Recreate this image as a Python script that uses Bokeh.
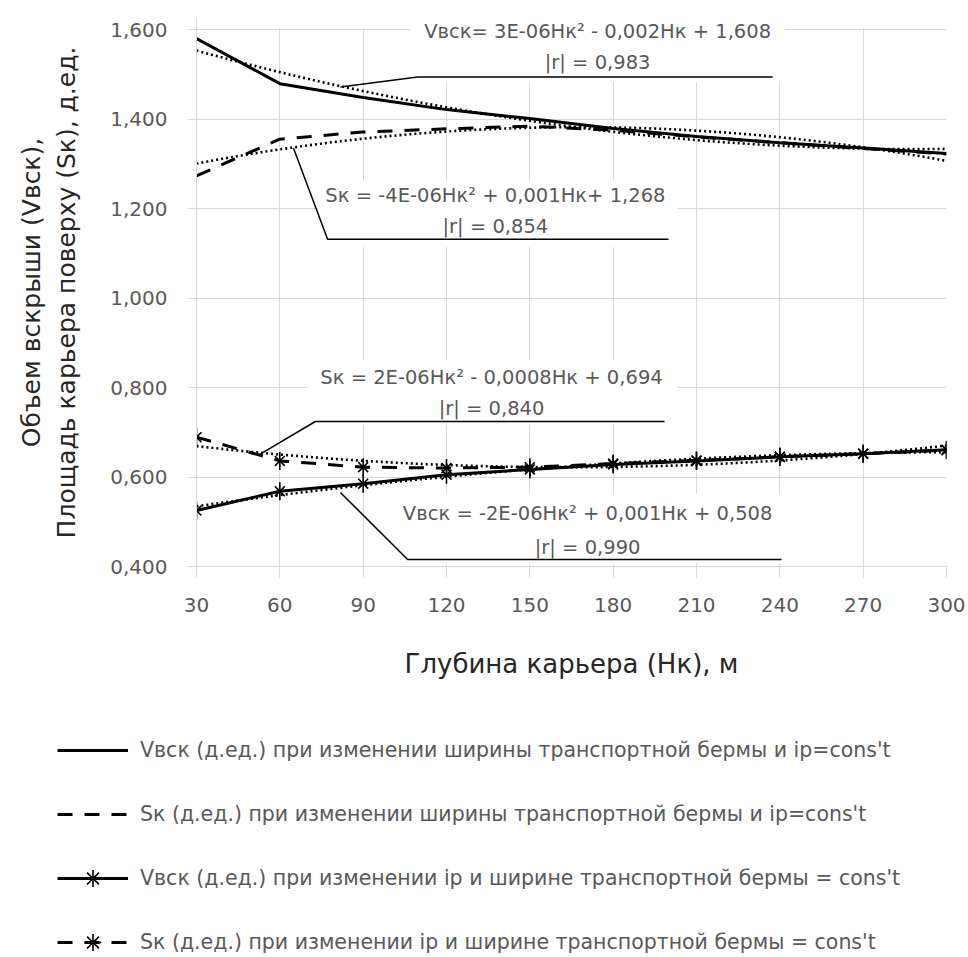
import numpy as np
from bokeh.plotting import figure
from bokeh.models import (FixedTicker, CustomJSTickFormatter, Label, Legend,
                          LegendItem, Range1d)
from bokeh.embed import file_html
from bokeh.resources import INLINE

# Depth of the pit, m
depth = [30, 60, 90, 120, 150, 180, 210, 240, 270, 300]

# Relative values (fractions of a unit)
v_berm = [1.580, 1.479, 1.448, 1.421, 1.401, 1.379, 1.361, 1.347, 1.335, 1.323]
s_berm = [1.273, 1.355, 1.371, 1.378, 1.384, 1.375, 1.360, 1.347, 1.334, 1.322]
v_ip = [0.525, 0.568, 0.585, 0.605, 0.617, 0.628, 0.636, 0.645, 0.652, 0.661]
s_ip = [0.689, 0.636, 0.622, 0.620, 0.622, 0.630, 0.637, 0.645, 0.652, 0.660]

y_ticks = [0.4, 0.6, 0.8, 1.0, 1.2, 1.4, 1.6]
x_ticks = [30, 60, 90, 120, 150, 180, 210, 240, 270, 300]

legend_labels = [
    "Vвск (д.ед.) при изменении ширины транспортной бермы и ip=cons't",
    "Sк (д.ед.) при изменении ширины транспортной бермы и ip=cons't",
    "Vвск (д.ед.) при изменении ip и ширине транспортной бермы = cons't",
    "Sк (д.ед.) при изменении ip и ширине транспортной бермы = cons't",
]

eq_texts = [
    ("Vвск= 3E-06Нк² - 0,002Нк + 1,608", "|r| = 0,983"),
    ("Sк = -4E-06Нк² + 0,001Нк+ 1,268", "|r| = 0,854"),
    ("Sк = 2E-06Нк² - 0,0008Нк + 0,694", "|r| = 0,840"),
    ("Vвск = -2E-06Нк² + 0,001Нк + 0,508", "|r| = 0,990"),
]

# Placement of the equation boxes: text centre x, y of both lines,
# white box (left, right, top, bottom) and the leader polyline.
eq_layout = [
    dict(cx=174.4, y1=1.5946, y2=1.5253, box=(107.0, 242.0, 1.70, 1.4828),
         lx=[81.8, 109.6, 237.4], ly=[1.4716, 1.494, 1.494]),
    dict(cx=137.6, y1=1.2300, y2=1.1606, box=(73.9, 203.2, 1.2635, 1.1136),
         lx=[64.9, 77.2, 199.9], ly=[1.335, 1.1315, 1.1315]),
    dict(cx=136.2, y1=0.8228, y2=0.7535, box=(70.3, 203.2, 0.8609, 0.7154),
         lx=[52.0, 72.8, 198.5], ly=[0.648, 0.724, 0.724]),
    dict(cx=170.8, y1=0.5186, y2=0.4425, box=(101.6, 243.8, 0.5633, 0.4067),
         lx=[81.8, 106.0, 240.6], ly=[0.5655, 0.4157, 0.4157]),
]

FONT = "DejaVu Sans"
GREY = "#595959"
GRID = "#d9d9d9"

# a little head room above 1,600 keeps the top equation inside the frame
Y_TOP = 1.6246

p = figure(width=968, height=720, output_backend="svg", toolbar_location=None,
           x_range=Range1d(30, 300), y_range=Range1d(0.4, Y_TOP),
           min_border_left=196, min_border_right=22, min_border_top=18,
           min_border_bottom=154)
p.outline_line_color = None
p.background_fill_color = "white"
p.border_fill_color = "white"

# axes
p.xaxis.ticker = FixedTicker(ticks=x_ticks)
p.yaxis.ticker = FixedTicker(ticks=y_ticks)
p.yaxis.formatter = CustomJSTickFormatter(code="return tick.toFixed(3).replace('.', ',');")
for ax in (p.xaxis, p.yaxis):
    ax.axis_line_color = GRID
    ax.major_tick_line_color = GRID
    ax.minor_tick_line_color = None
    ax.major_tick_in = 0
    ax.major_label_text_font = FONT
    ax.major_label_text_font_size = "20px"
    ax.major_label_text_color = GREY
    ax.axis_label_text_font = FONT
    ax.axis_label_text_font_style = "normal"
    ax.axis_label_text_color = "#262626"
p.xaxis.axis_label_text_font_size = "26px"
p.yaxis.axis_label_text_font_size = "25px"
p.xaxis.major_tick_out = 11
p.yaxis.major_tick_out = 9
p.xaxis.major_label_standoff = 20
p.yaxis.major_label_standoff = 20
p.xaxis.axis_label = "Глубина карьера (Нк), м"
p.xaxis.axis_label_standoff = 34
p.yaxis.axis_label = "Объем вскрыши (Vвск),\nПлощадь карьера поверху (Sк), д.ед."
p.yaxis.axis_label_standoff = 26

p.xgrid.ticker = FixedTicker(ticks=x_ticks)
p.ygrid.ticker = FixedTicker(ticks=y_ticks)
p.xgrid.grid_line_color = GRID
p.ygrid.grid_line_color = GRID

# blank strip above the 1,600 grid line
p.quad(left=[30], right=[300], top=[Y_TOP], bottom=[1.6035],
       fill_color="white", line_color=None)

# white backgrounds of the equation boxes
p.quad(left=[e["box"][0] for e in eq_layout], right=[e["box"][1] for e in eq_layout],
       top=[e["box"][2] for e in eq_layout], bottom=[e["box"][3] for e in eq_layout],
       fill_color="white", line_color=None)

# quadratic trend lines fitted to each series
grid = np.linspace(30, 300, 200)
for series in (v_berm, s_berm, v_ip, s_ip):
    coef = np.polyfit(depth, series, 2)
    p.line(grid, np.polyval(coef, grid), line_color="black", line_width=2.6,
           line_dash="2 3")


def draw_series(fig, bar_marker, bar_angle):
    """Draw the four series on fig; return the renderers for each legend row.

    The star markers are an "x" plus a vertical bar (bar_marker/bar_angle).
    """
    rows = [[fig.line(depth, v_berm, line_color="black", line_width=3)],
            [fig.line(depth, s_berm, line_color="black", line_width=3,
                      line_dash="15 12")],
            [fig.line(depth, v_ip, line_color="black", line_width=3)],
            [fig.line(depth, s_ip, line_color="black", line_width=3,
                      line_dash="15 12")]]
    for row, series in ((rows[2], v_ip), (rows[3], s_ip)):
        row.append(fig.scatter(depth, series, marker="x", size=14,
                               line_color="black", line_width=1.6))
        row.append(fig.scatter(depth, series, marker=bar_marker, size=18,
                               angle=bar_angle, line_color="black",
                               line_width=1.6))
    return rows


draw_series(p, "dash", np.pi / 2)

# leaders and equation texts
for (t1, t2), e in zip(eq_texts, eq_layout):
    p.line(e["lx"], e["ly"], line_color="black", line_width=1.5)
    for txt, yy in ((t1, e["y1"]), (t2, e["y2"])):
        p.add_layout(Label(x=e["cx"], y=yy, text=txt, text_align="center",
                           text_baseline="middle", text_font=FONT,
                           text_font_size="19.5px", text_color=GREY))

# legend strip under the chart; the series are drawn out of its view and
# only lend their styles to the legend entries (in the legend the horizontal
# arm of the cross lies on the sample line, leaving the vertical bar)
lg = figure(width=968, height=237, output_backend="svg", toolbar_location=None,
            x_range=Range1d(0, 1), y_range=Range1d(0, 1),
            x_axis_type=None, y_axis_type=None, min_border=0)
lg.outline_line_color = None
lg.xgrid.visible = False
lg.ygrid.visible = False
rows = draw_series(lg, "cross", 0)

legend = Legend(items=[LegendItem(label=lab, renderers=r)
                       for lab, r in zip(legend_labels, rows)],
                location=(57, -6), orientation="vertical", glyph_width=71,
                glyph_height=42, label_height=42, spacing=22, padding=0,
                margin=0, label_standoff=12, border_line_alpha=0,
                background_fill_alpha=0, label_text_font=FONT,
                label_text_font_size="20.5px", label_text_color=GREY)
lg.add_layout(legend, "center")

open("out.html", "w").write(file_html([p, lg], INLINE))
